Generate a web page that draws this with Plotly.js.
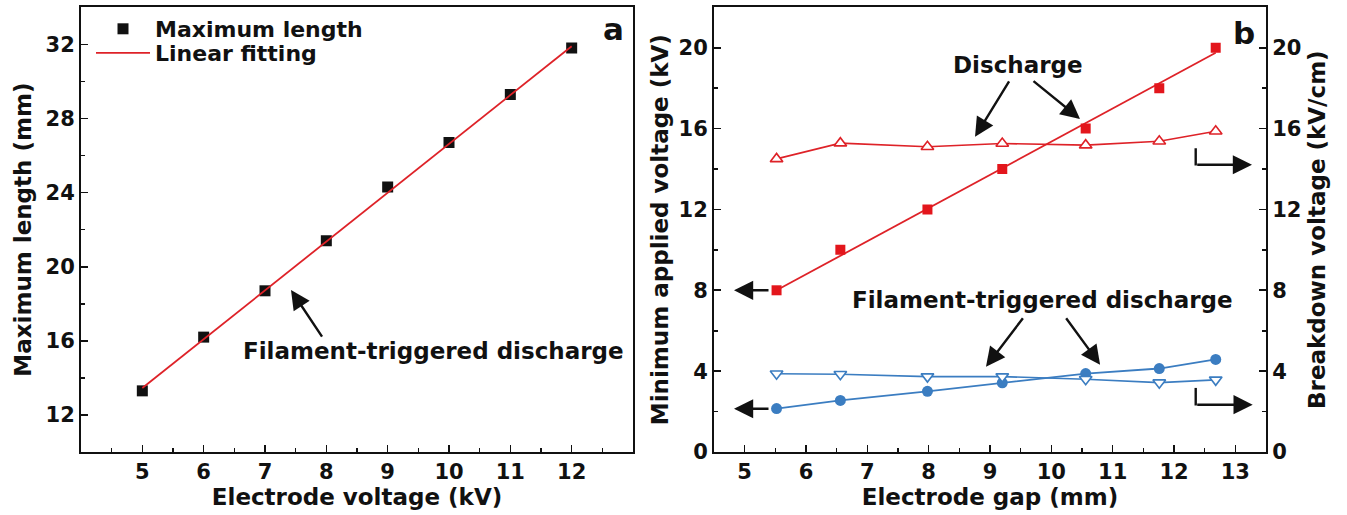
<!DOCTYPE html>
<html>
<head>
<meta charset="utf-8">
<script src="https://cdn.plot.ly/plotly-3.0.1.min.js"></script>
<style>
  html, body { margin: 0; padding: 0; background: #fff; }
  #chart { width: 1347px; height: 515px; }
</style>
</head>
<body>
<div id="chart"></div>
<script>
// ---- Panel a: maximum filament length vs electrode voltage ----
const voltA = [5, 6, 7, 8, 9, 10, 11, 12];
const maxLength = [13.3, 16.2, 18.7, 21.4, 24.3, 26.7, 29.3, 31.8];
const fitVoltA = [5, 12];
const fitLength = [13.45, 31.9];

// ---- Panel b: minimum applied voltage / breakdown voltage vs electrode gap ----
const gapB = [5.52, 6.56, 7.98, 9.2, 10.56, 11.76, 12.68];
const minVoltDischarge = [8, 10, 12, 14, 16, 18, 20];
const fitGapB = [5.52, 12.68];
const fitMinVoltDischarge = [8.0, 19.75];
const breakdownDischarge = [14.5, 15.28, 15.1, 15.26, 15.18, 15.37, 15.87];
const minVoltFilament = [2.15, 2.55, 3.0, 3.42, 3.88, 4.13, 4.58];
const breakdownFilament = [3.87, 3.85, 3.73, 3.73, 3.6, 3.43, 3.57];

const FONT = '"DejaVu Sans", "Liberation Sans", Arial, sans-serif';
const INK = '#111111';
const RED = '#e3161c';
const RED_LINE = '#de2228';
const BLUE = '#3b7dc1';

const W = 1347, H = 515;
const xDomA = [81 / W, 633 / W];
const xDomB = [714 / W, 1266 / W];
const yDom = [(H - 452) / H, (H - 7.3) / H];

const traces = [
  {
    x: voltA, y: maxLength, xaxis: 'x', yaxis: 'y',
    type: 'scatter', mode: 'markers', name: 'Maximum length', legend: 'legend',
    marker: { symbol: 'square', size: 11, color: INK }
  },
  {
    x: fitVoltA, y: fitLength, xaxis: 'x', yaxis: 'y',
    type: 'scatter', mode: 'lines', name: 'Linear fitting', legend: 'legend2',
    line: { color: RED_LINE, width: 1.8 }
  },
  {
    x: fitGapB, y: fitMinVoltDischarge, xaxis: 'x2', yaxis: 'y2',
    type: 'scatter', mode: 'lines', showlegend: false,
    line: { color: RED_LINE, width: 1.8 }
  },
  {
    x: gapB, y: minVoltDischarge, xaxis: 'x2', yaxis: 'y2',
    type: 'scatter', mode: 'markers', showlegend: false,
    marker: { symbol: 'square', size: 10, color: RED }
  },
  {
    x: gapB, y: minVoltFilament, xaxis: 'x2', yaxis: 'y2',
    type: 'scatter', mode: 'lines+markers', showlegend: false,
    line: { color: BLUE, width: 1.8 },
    marker: { symbol: 'circle', size: 11, color: BLUE }
  },
  {
    x: gapB, y: breakdownDischarge, xaxis: 'x2', yaxis: 'y3',
    type: 'scatter', mode: 'lines+markers', showlegend: false,
    line: { color: RED_LINE, width: 1.6 },
    marker: { symbol: 'triangle-up', size: 11, color: '#ffffff', line: { color: RED_LINE, width: 1.6 } }
  },
  {
    x: gapB, y: breakdownFilament, xaxis: 'x2', yaxis: 'y3',
    type: 'scatter', mode: 'lines+markers', showlegend: false,
    line: { color: BLUE, width: 1.6 },
    marker: { symbol: 'triangle-down', size: 11, color: '#ffffff', line: { color: BLUE, width: 1.6 } }
  }
];

const tickStyle = {
  ticks: 'inside', ticklen: 7, tickwidth: 1.6, tickcolor: INK,
  showline: true, linewidth: 2, linecolor: INK,
  showgrid: false, zeroline: false,
  tickfont: { family: FONT, size: 21, color: INK, weight: 'bold' }
};
const minorStyle = { ticks: 'inside', ticklen: 4, tickwidth: 1.6, tickcolor: INK, showgrid: false };
const titleFont = { family: FONT, size: 23, color: INK, weight: 'bold' };

function arrow(xref, yref, tipX, tipY, tailX, tailY) {
  return {
    xref: xref, yref: yref, axref: xref, ayref: yref,
    x: tipX, y: tipY, ax: tailX, ay: tailY,
    text: '', showarrow: true, arrowhead: 2, arrowsize: 1.6, arrowwidth: 2.4,
    arrowcolor: INK, standoff: 0, startstandoff: 0
  };
}
function label(xref, yref, x, y, text, size) {
  return {
    xref: xref, yref: yref, x: x, y: y, text: text, showarrow: false,
    xanchor: 'center', yanchor: 'middle',
    font: { family: FONT, size: size, color: INK, weight: 'bold' }
  };
}

const layout = {
  width: W, height: H,
  margin: { l: 0, r: 0, t: 0, b: 0, pad: 0 },
  paper_bgcolor: '#ffffff', plot_bgcolor: '#ffffff',
  font: { family: FONT, size: 21, color: INK, weight: 'bold' },
  showlegend: true,
  legend: {
    x: 91 / W, y: 1 - 29 / H, xanchor: 'left', yanchor: 'middle',
    bgcolor: 'rgba(0,0,0,0)', borderwidth: 0, itemwidth: 54,
    font: { family: FONT, size: 22, color: INK, weight: 'bold' }
  },
  legend2: {
    x: 91 / W, y: 1 - 53 / H, xanchor: 'left', yanchor: 'middle',
    bgcolor: 'rgba(0,0,0,0)', borderwidth: 0, itemwidth: 54,
    font: { family: FONT, size: 22, color: INK, weight: 'bold' }
  },
  xaxis: Object.assign({}, tickStyle, {
    domain: xDomA, anchor: 'y', range: [4, 13], mirror: true,
    tickmode: 'array', tickvals: voltA,
    minor: Object.assign({ tickmode: 'linear', tick0: 4.5, dtick: 1 }, minorStyle),
    title: { text: 'Electrode voltage (kV)', font: titleFont, standoff: 4 }
  }),
  yaxis: Object.assign({}, tickStyle, {
    domain: yDom, anchor: 'x', range: [10, 34], mirror: true,
    tickmode: 'linear', tick0: 0, dtick: 4,
    minor: Object.assign({ tickmode: 'linear', tick0: 2, dtick: 4 }, minorStyle),
    title: { text: 'Maximum length (mm)', font: titleFont, standoff: 8 }
  }),
  xaxis2: Object.assign({}, tickStyle, {
    domain: xDomB, anchor: 'y2', range: [4.5, 13.5], mirror: true,
    tickmode: 'linear', tick0: 0, dtick: 1,
    minor: Object.assign({ tickmode: 'linear', tick0: 0.5, dtick: 1 }, minorStyle),
    title: { text: 'Electrode gap (mm)', font: titleFont, standoff: 4 }
  }),
  yaxis2: Object.assign({}, tickStyle, {
    domain: yDom, anchor: 'x2', range: [0, 22], mirror: true,
    tickmode: 'linear', tick0: 0, dtick: 4,
    minor: Object.assign({ tickmode: 'linear', tick0: 2, dtick: 4 }, minorStyle),
    title: { text: 'Minimum applied voltage (kV)', font: titleFont, standoff: 4 }
  }),
  yaxis3: Object.assign({}, tickStyle, {
    overlaying: 'y2', anchor: 'x2', side: 'right', range: [0, 22],
    tickmode: 'linear', tick0: 0, dtick: 4,
    minor: Object.assign({ tickmode: 'linear', tick0: 2, dtick: 4 }, minorStyle),
    title: { text: 'Breakdown voltage (kV/cm)', font: titleFont, standoff: 8 }
  }),
  annotations: [
    // panel a
    label('x', 'y', 12.674, 32.83, 'a', 31),
    label('x', 'y', 9.75, 15.45, 'Filament-triggered discharge', 23),
    arrow('x', 'y', 7.424, 18.74, 7.946, 16.15),
    // panel b
    label('x2', 'y2', 13.142, 20.74, 'b', 31),
    label('x2', 'y2', 9.457, 19.15, 'Discharge', 23),
    arrow('x2', 'y2', 8.756, 15.59, 9.326, 18.41),
    arrow('x2', 'y2', 10.468, 16.48, 9.685, 18.41),
    label('x2', 'y2', 9.864, 7.51, 'Filament-triggered discharge', 23),
    arrow('x2', 'y2', 8.935, 4.22, 9.555, 6.69),
    arrow('x2', 'y2', 10.795, 4.32, 10.224, 6.69),
    // left-axis pointers
    arrow('x2', 'y2', 4.826, 8.0, 5.413, 8.0),
    arrow('x2', 'y2', 4.826, 2.14, 5.413, 2.14),
    // right-axis pointers (horizontal part)
    arrow('x2', 'y2', 13.272, 14.21, 12.354, 14.21),
    arrow('x2', 'y2', 13.283, 2.34, 12.354, 2.34)
  ],
  shapes: [
    // right-axis pointers (vertical part)
    { type: 'line', xref: 'x2', yref: 'y2', x0: 12.354, x1: 12.354, y0: 15.03, y1: 14.17,
      line: { color: INK, width: 2.4 } },
    { type: 'line', xref: 'x2', yref: 'y2', x0: 12.354, x1: 12.354, y0: 3.17, y1: 2.30,
      line: { color: INK, width: 2.4 } }
  ]
};

Plotly.newPlot('chart', traces, layout, { displayModeBar: false, staticPlot: true });
</script>
</body>
</html>
